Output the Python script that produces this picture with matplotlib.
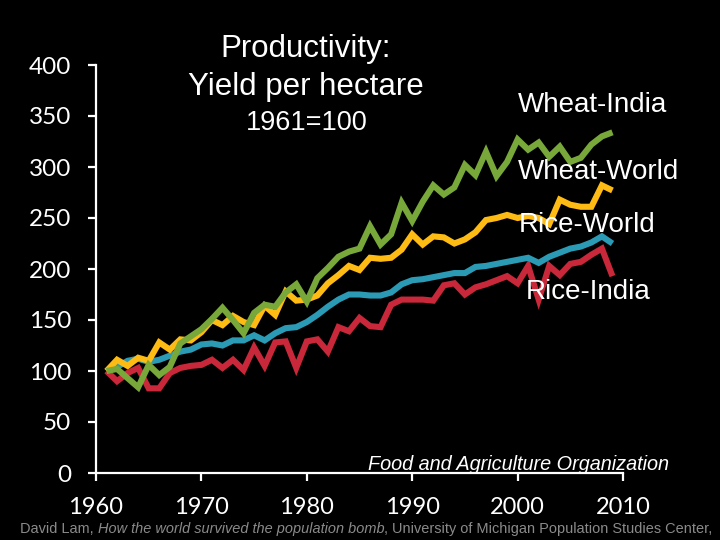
import matplotlib
matplotlib.use("Agg")
import matplotlib.pyplot as plt

years = list(range(1961, 2010))

wheat_india = [100, 102, 93, 84, 106, 96, 104, 127, 134, 141,
               151, 162, 150, 137, 157, 165, 163, 177, 185, 168,
               191, 201, 212, 217, 220, 242, 224, 234, 265, 247,
               266, 282, 273, 280, 302, 292, 315, 291, 305, 327,
               317, 324, 310, 320, 305, 309, 322, 330, 334]

wheat_world = [100, 111, 105, 113, 110, 128, 121, 131, 130, 138,
               150, 145, 154, 148, 145, 164, 155, 178, 169, 170,
               174, 186, 194, 203, 199, 211, 210, 211, 219, 234,
               224, 232, 231, 225, 229, 236, 248, 250, 253, 250,
               252, 250, 244, 268, 263, 261, 261, 282, 277]

rice_world = [100, 104, 110, 112, 109, 111, 115, 119, 121, 126,
              127, 125, 130, 130, 135, 130, 137, 142, 143, 148,
              155, 163, 170, 175, 175, 174, 174, 177, 185, 189,
              190, 192, 194, 196, 196, 202, 203, 205, 207, 209,
              211, 206, 212, 216, 220, 222, 226, 232, 225]

rice_india = [100, 90, 98, 103, 83, 83, 98, 103, 105, 106,
              111, 103, 111, 101, 123, 105, 128, 129, 103, 129,
              131, 119, 143, 139, 152, 144, 143, 165, 170, 170,
              170, 169, 184, 186, 175, 182, 185, 189, 193, 186,
              203, 170, 203, 194, 205, 207, 214, 220, 193]

series_names = ["Wheat-India", "Wheat-World", "Rice-World", "Rice-India"]
colors = {"Wheat-India": "#78a83a", "Wheat-World": "#fdbb14",
          "Rice-World": "#2b9ab5", "Rice-India": "#c8283a"}
data = {"Wheat-India": wheat_india, "Wheat-World": wheat_world,
        "Rice-World": rice_world, "Rice-India": rice_india}

x_ticks = [1960, 1970, 1980, 1990, 2000, 2010]
y_ticks = [0, 50, 100, 150, 200, 250, 300, 350, 400]

fig = plt.figure(figsize=(7.2, 5.4), dpi=100, facecolor="black")
ax = fig.add_axes([96/720, 1-473/540, (623-96)/720, (473-65)/540])
ax.set_facecolor("black")

for name in ["Rice-India", "Rice-World", "Wheat-World", "Wheat-India"]:
    ax.plot(years, data[name], color=colors[name], lw=4.4,
            solid_joinstyle="miter", solid_capstyle="butt", zorder=3)

ax.set_xlim(1960, 2010)
ax.set_ylim(0, 400)
ax.set_xticks(x_ticks)
ax.set_yticks(y_ticks)
for s in ["top", "right"]:
    ax.spines[s].set_visible(False)
for s in ["left", "bottom"]:
    ax.spines[s].set_color("white")
    ax.spines[s].set_linewidth(1.6)
ax.tick_params(axis="y", colors="white", length=6, width=1.6, pad=12,
               labelsize=17.5)
ax.tick_params(axis="x", colors="white", length=6, width=1.6, pad=11,
               labelsize=17)
for lab in ax.get_xticklabels() + ax.get_yticklabels():
    lab.set_family("Lato")
    lab.set_color("white")

# titles
fig.text(306/720, 1-49/540, "Productivity:", color="white", ha="center",
         va="center", fontsize=22.5, family="Liberation Sans")
fig.text(306/720, 1-87/540, "Yield per hectare", color="white", ha="center",
         va="center", fontsize=22.5, family="Liberation Sans")
fig.text(307/720, 1-123/540, "1961=100", color="white", ha="center",
         va="center", fontsize=19.5, family="Liberation Sans")

# series labels
label_pos = {"Wheat-India": (518, 105), "Wheat-World": (518, 172),
             "Rice-World": (519, 225), "Rice-India": (526, 292)}
for name in series_names:
    px, py = label_pos[name]
    fig.text(px/720, 1-py/540, name, color="white", ha="left", va="center",
             fontsize=20, family="Liberation Sans", zorder=5)

fig.text(368/720, 1-465/540, "Food and Agriculture Organization",
         color="white", ha="left", va="center", fontsize=14.3,
         style="italic", family="Liberation Sans")

# citation
gray = "#8a8a8a"
base_y = 1 - 533/540
fs = 10.5
t1 = fig.text(20/720, base_y, "David Lam, ", color=gray, ha="left",
              va="baseline", fontsize=fs, family="Liberation Sans")
t2 = fig.text(0, base_y, "How the world survived the population bomb", color=gray,
              fontsize=fs, style="italic", family="Liberation Sans",
              va="baseline", ha="left")
t3 = fig.text(0, base_y, ", University of Michigan Population Studies Center,",
              color=gray, fontsize=fs, family="Liberation Sans",
              va="baseline", ha="left")
cite = [t1, t2, t3]

fig.canvas.draw()
r = fig.canvas.get_renderer()
total = sum(t.get_window_extent(r).width for t in cite)
scale = 694.0 / total
for t in cite:
    t.set_fontsize(fs * scale)
fig.canvas.draw()
inv = fig.transFigure.inverted()
x = 20 / 720
for t in cite:
    t.set_position((x, base_y))
    fig.canvas.draw()
    bb = t.get_window_extent(r)
    x = inv.transform((bb.x1, 0))[0]

fig.savefig("out.png", dpi=100, facecolor="black")
